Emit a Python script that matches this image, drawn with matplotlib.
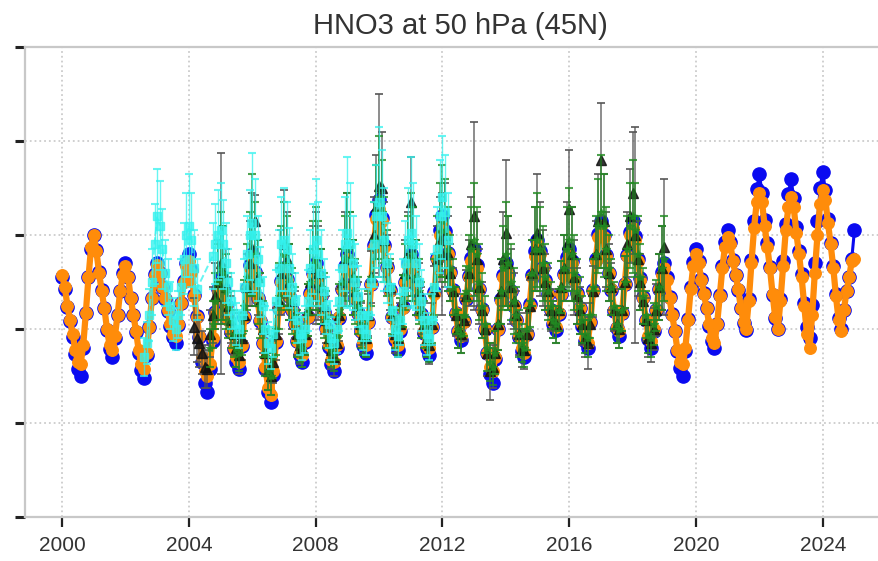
import numpy as np
import matplotlib
matplotlib.use("Agg")
import matplotlib.pyplot as plt

# ---------------- data (monthly, Jan..Dec per row) ----------------
blue_start = (2000, 1)
blue_vals = [
    5.1, 4.85, 4.47, 4.16, 3.84, 3.46, 3.15, 3.0, 3.6, 4.35, 5.1, 5.7,      # 2000
    6.0, 5.69, 5.22, 4.83, 4.44, 3.97, 3.58, 3.4, 3.8, 4.3, 4.8, 5.2,       # 2001
    5.4, 5.11, 4.67, 4.3, 3.93, 3.49, 3.12, 2.95, 3.44, 4.05, 4.67, 5.16,   # 2002
    5.4, 5.2, 4.89, 4.64, 4.38, 4.07, 3.82, 3.7, 4.08, 4.56, 5.03, 5.41,    # 2003
    5.6, 5.25, 4.72, 4.27, 3.83, 3.3, 2.86, 2.65, 3.14, 3.75, 4.37, 4.86,   # 2004
    5.1, 4.87, 4.52, 4.22, 3.93, 3.58, 3.29, 3.15, 3.64, 4.25, 4.87, 5.36,  # 2005
    5.6, 5.22, 4.66, 4.18, 3.71, 3.14, 2.67, 2.45, 3.02, 3.73, 4.45, 5.02,  # 2006
    5.3, 5.06, 4.7, 4.4, 4.1, 3.74, 3.44, 3.3, 3.72, 4.25, 4.77, 5.19,      # 2007
    5.4, 5.12, 4.71, 4.37, 4.02, 3.61, 3.26, 3.1, 3.6, 4.23, 4.85, 5.35,    # 2008
    5.6, 5.35, 4.97, 4.66, 4.34, 3.96, 3.65, 3.5, 4.15, 4.96, 5.78, 6.43,   # 2009
    6.75, 6.37, 5.79, 5.31, 4.83, 4.25, 3.77, 3.55, 3.96, 4.47, 4.99, 5.4,  # 2010
    5.6, 5.34, 4.96, 4.63, 4.31, 3.92, 3.6, 3.45, 4.04, 4.78, 5.52, 6.1,    # 2011
    6.4, 6.08, 5.61, 5.22, 4.82, 4.35, 3.95, 3.77, 4.16, 4.64, 5.12, 5.51,  # 2012
    5.7, 5.36, 4.85, 4.42, 3.99, 3.48, 3.05, 2.85, 3.36, 4.0, 4.64, 5.15,   # 2013
    5.4, 5.16, 4.8, 4.5, 4.2, 3.84, 3.54, 3.4, 3.9, 4.53, 5.15, 5.65,       # 2014
    5.9, 5.67, 5.32, 5.04, 4.75, 4.4, 4.11, 3.98, 4.32, 4.75, 5.18, 5.53,   # 2015
    5.7, 5.45, 5.07, 4.76, 4.44, 4.06, 3.75, 3.6, 4.14, 4.82, 5.49, 6.03,   # 2016
    6.3, 6.01, 5.57, 5.2, 4.83, 4.39, 4.02, 3.85, 4.34, 4.95, 5.57, 6.06,   # 2017
    6.3, 5.98, 5.49, 5.09, 4.68, 4.19, 3.79, 3.6, 3.96, 4.41, 4.86, 5.22,   # 2018
    5.4, 5.11, 4.68, 4.32, 3.96, 3.53, 3.17, 3.0, 3.54, 4.22, 4.89, 5.43,   # 2019
    5.7, 5.45, 5.07, 4.76, 4.44, 4.06, 3.75, 3.6, 4.1, 4.73, 5.35, 5.85,    # 2020
    6.1, 5.85, 5.46, 5.15, 4.83, 4.45, 4.13, 3.98, 4.64, 5.47, 6.3, 6.97,   # 2021
    7.3, 6.9, 6.31, 5.82, 5.32, 4.73, 4.23, 4.0, 4.64, 5.44, 6.24, 6.88,    # 2022
    7.2, 6.79, 6.18, 5.67, 5.16, 4.55, 4.04, 3.8, 4.51, 5.4, 6.29, 7.0,     # 2023
    7.35, 6.95, 6.35, 5.84, 5.34, 4.74, 4.23, 4.0, 4.4, 4.8, 5.1, 5.5,      # 2024
    6.1,                                                                     # 2025
]

orange_start = (2000, 1)
orange_vals = [
    5.15, 4.9, 4.5, 4.2, 3.9, 3.55, 3.3, 3.25, 3.65, 4.35, 5.1, 5.75,       # 2000
    6.0, 5.65, 5.2, 4.8, 4.45, 4.0, 3.65, 3.55, 3.85, 4.3, 4.8, 5.15,       # 2001
    5.35, 5.1, 4.65, 4.3, 3.95, 3.55, 3.25, 3.15, 3.5, 4.05, 4.65, 5.15,    # 2002
    5.36, 5.2, 4.9, 4.65, 4.4, 4.1, 3.9, 3.85, 4.1, 4.55, 5.0, 5.35,        # 2003
    5.45, 5.2, 4.7, 4.25, 3.85, 3.4, 3.1, 3.0, 3.25, 3.8, 4.35, 4.8,        # 2004
    5.0, 4.85, 4.5, 4.2, 3.95, 3.6, 3.4, 3.3, 3.65, 4.25, 4.85, 5.3,        # 2005
    5.55, 5.2, 4.65, 4.2, 3.7, 3.2, 2.75, 2.6, 3.1, 3.75, 4.45, 5.0,        # 2006
    5.25, 5.05, 4.7, 4.4, 4.1, 3.75, 3.5, 3.45, 3.75, 4.25, 4.75, 5.15,     # 2007
    5.3, 5.1, 4.7, 4.35, 4.0, 3.65, 3.35, 3.3, 3.65, 4.25, 4.85, 5.3,       # 2008
    5.5, 5.3, 4.95, 4.65, 4.35, 3.95, 3.7, 3.65, 4.15, 4.95, 5.75, 6.35,    # 2009
    6.55, 6.3, 5.75, 5.3, 4.8, 4.25, 3.8, 3.65, 4.0, 4.45, 5.0, 5.35,       # 2010
    5.5, 5.3, 4.95, 4.6, 4.3, 3.95, 3.65, 3.6, 4.05, 4.75, 5.5, 6.0,        # 2011
    6.2, 6.0, 5.6, 5.2, 4.8, 4.35, 3.95, 3.85, 4.15, 4.65, 5.1, 5.45,       # 2012
    5.6, 5.3, 4.85, 4.4, 4.0, 3.5, 3.2, 3.1, 3.4, 4.0, 4.6, 5.1,            # 2013
    5.3, 5.15, 4.8, 4.5, 4.2, 3.85, 3.6, 3.5, 3.9, 4.5, 5.1, 5.55,          # 2014
    5.8, 5.6, 5.3, 5.0, 4.75, 4.4, 4.15, 4.05, 4.35, 4.75, 5.15, 5.45,      # 2015
    5.6, 5.4, 5.05, 4.75, 4.45, 4.1, 3.8, 3.7, 4.15, 4.8, 5.45, 5.95,       # 2016
    6.2, 5.95, 5.55, 5.2, 4.85, 4.4, 4.05, 3.95, 4.35, 4.95, 5.55, 6.0,     # 2017
    6.15, 5.9, 5.45, 5.05, 4.65, 4.2, 3.85, 3.75, 4.0, 4.4, 4.85, 5.15,     # 2018
    5.3, 5.05, 4.65, 4.3, 3.95, 3.55, 3.3, 3.25, 3.6, 4.2, 4.85, 5.35,      # 2019
    5.6, 5.4, 5.05, 4.75, 4.45, 4.1, 3.8, 3.7, 4.1, 4.7, 5.3, 5.75,         # 2020
    5.95, 5.8, 5.45, 5.15, 4.85, 4.45, 4.15, 4.0, 4.6, 5.4, 6.15, 6.7,      # 2021
    6.9, 6.7, 6.2, 5.75, 5.3, 4.75, 4.25, 4.0, 4.6, 5.35, 6.1, 6.6,         # 2022
    6.8, 6.6, 6.05, 5.6, 5.1, 4.5, 3.9, 3.6, 4.3, 5.2, 6.0, 6.65,           # 2023
    6.95, 6.75, 6.25, 5.8, 5.3, 4.7, 4.2, 3.95, 4.4, 4.8, 5.1, 5.45,        # 2024
    5.5,                                                                     # 2025
]

# cyan series with errors (None = missing month)
cyan_start = (2002, 8)
cyan_vals = [
    3.4, 3.7, 4.3, 5.0, 5.8,                                                 # 2002 Aug-Dec
    6.4, 6.2, 5.7, 5.2, 4.9, 4.5, 4.2, 4.0, 4.3, 4.9, 5.5, 6.0,              # 2003
    6.2, 5.9, 5.3, 4.85, None, None, None, None, None, 5.55, 5.8, 6.0,       # 2004
    6.1, 5.8, 5.4, 5.0, 4.6, 4.3, 4.1, 4.0, 4.3, 4.9, 5.6, 6.0,              # 2005
    6.25, 6.0, 5.5, 5.0, 4.5, 4.0, 3.7, 3.6, 3.9, 4.6, 5.3, 5.8,             # 2006
    5.9, 5.7, 5.3, 4.9, 4.6, 4.2, 3.9, 3.8, 4.0, 4.6, 5.3, 5.7,              # 2007
    5.9, 5.6, 5.2, 4.8, 4.5, 4.1, 3.8, 3.7, 4.0, 4.6, 5.3, 5.8,              # 2008
    6.05, 5.8, 5.4, 5.0, 4.7, 4.3, 4.0, 3.9, 4.3, 5.0, 5.8, 6.4,             # 2009
    6.7, 6.4, 5.9, 5.4, 4.9, 4.4, 4.0, 3.85, 4.2, 4.8, 5.4, 5.9,             # 2010
    6.05, 5.8, 5.4, 5.0, 4.6, 4.2, 3.9, 3.8, 4.2, 4.9, 5.7, 6.4,             # 2011
    6.8, 6.5, 5.9,                                                           # 2012 Jan-Mar
]
cyan_err = [
    0.4, 0.45, 0.55, 0.7, 0.85,
    1.0, 0.95, 0.85, 0.7, 0.6, 0.5, 0.45, 0.45, 0.5, 0.6, 0.75, 0.9,
    1.1, 1.0, 0.8, 0.65, None, None, None, None, None, 0.7, 0.85, 0.95,
    1.0, 0.95, 0.85, 0.7, 0.6, 0.5, 0.45, 0.4, 0.5, 0.6, 0.8, 0.95,
    1.5, 1.2, 0.9, 0.75, 0.6, 0.5, 0.45, 0.45, 0.5, 0.65, 0.8, 1.0,
    1.1, 1.0, 0.85, 0.7, 0.6, 0.5, 0.45, 0.45, 0.5, 0.65, 0.8, 0.95,
    1.3, 1.1, 0.9, 0.7, 0.6, 0.5, 0.45, 0.45, 0.5, 0.65, 0.8, 1.0,
    1.6, 1.3, 1.0, 0.8, 0.65, 0.55, 0.45, 0.45, 0.55, 0.7, 0.9, 1.1,
    1.6, 1.4, 1.1, 0.85, 0.7, 0.55, 0.45, 0.45, 0.55, 0.7, 0.9, 1.1,
    1.6, 1.3, 1.0, 0.8, 0.65, 0.55, 0.45, 0.45, 0.55, 0.7, 0.9, 1.2,
    1.3, 1.2, 1.0,
]

green_start = (2004, 9)
green_vals = [
    3.6, 4.1, 4.6, 5.0,                                                      # 2004 Sep-Dec
    5.3, 5.2, 4.8, 4.5, 4.2, 3.9, 3.6, 3.5, 3.9, 4.5, 5.1, 5.6,              # 2005
    6.0, 5.6, 5.0, 4.5, 4.0, 3.5, 3.1, 3.0, 3.4, 4.0, 4.7, 5.3,              # 2006
    5.6, 5.4, 5.0, 4.6, 4.3, 3.9, 3.7, 3.6, 3.9, 4.4, 5.0, 5.4,              # 2007
    5.5, 5.3, 4.9, 4.5, 4.2, 3.8, 3.6, 3.5, 3.8, 4.4, 5.0, 5.5,              # 2008
    5.7, 5.5, 5.1, 4.8, 4.5, 4.1, 3.85, 3.8, 4.3, 5.1, 5.9, 6.5,             # 2009
    6.8, 6.5, 5.9, 5.4, 4.9, 4.4, 4.0, 3.85, 4.2, 4.6, 5.1, 5.5,             # 2010
    5.8, 5.6, 5.1, 4.8, 4.4, 4.1, 3.8, 3.7, 4.2, 4.9, 5.6, 6.1,              # 2011
    6.3, 6.1, 5.7, 5.3, 4.9, 4.4, 4.0, 3.9, 4.3, 4.8, 5.3, 5.7,              # 2012
    5.9, 5.6, 5.0, 4.5, 4.1, 3.6, 3.3, 3.2, 3.5, 4.1, 4.8, 5.3,              # 2013
    5.6, 5.4, 5.0, 4.6, 4.3, 3.9, 3.7, 3.6, 4.0, 4.6, 5.2, 5.7,              # 2014
    5.9, 5.7, 5.4, 5.1, 4.8, 4.5, 4.2, 4.1, 4.4, 4.9, 5.3, 5.7,              # 2015
    5.9, 5.6, 5.2, 4.8, 4.5, 4.2, 3.9, 3.8, 4.3, 4.9, 5.6, 6.2,              # 2016
    6.5, 6.2, 5.7, 5.3, 4.9, 4.5, 4.1, 4.0, 4.4, 5.0, 5.7, 6.2,              # 2017
    6.4, 6.1, 5.6, 5.1, 4.7, 4.3, 3.9, 3.8, 4.1, 4.5, 4.9, 5.3,              # 2018
    5.5,                                                                     # 2019 Jan
]
green_err = [
    0.4, 0.5, 0.6, 0.8,
    1.2, 1.0, 0.8, 0.7, 0.6, 0.5, 0.4, 0.4, 0.45, 0.55, 0.7, 0.9,
    1.3, 1.1, 0.9, 0.7, 0.6, 0.5, 0.4, 0.4, 0.45, 0.55, 0.7, 0.9,
    1.1, 1.0, 0.8, 0.7, 0.6, 0.5, 0.4, 0.4, 0.45, 0.55, 0.7, 0.9,
    1.1, 1.0, 0.8, 0.7, 0.6, 0.5, 0.4, 0.4, 0.45, 0.55, 0.7, 0.9,
    1.2, 1.0, 0.8, 0.7, 0.6, 0.5, 0.4, 0.4, 0.5, 0.6, 0.8, 1.0,
    1.3, 1.1, 0.9, 0.7, 0.6, 0.5, 0.4, 0.4, 0.45, 0.55, 0.7, 0.9,
    1.1, 1.0, 0.8, 0.7, 0.6, 0.5, 0.4, 0.4, 0.5, 0.6, 0.8, 1.0,
    1.2, 1.1, 0.9, 0.7, 0.6, 0.5, 0.4, 0.4, 0.45, 0.55, 0.7, 0.9,
    1.2, 1.0, 0.8, 0.7, 0.6, 0.5, 0.4, 0.4, 0.45, 0.55, 0.7, 0.9,
    1.1, 1.0, 0.8, 0.7, 0.6, 0.5, 0.4, 0.4, 0.45, 0.55, 0.7, 0.9,
    1.0, 0.9, 0.8, 0.7, 0.6, 0.5, 0.4, 0.4, 0.45, 0.55, 0.7, 0.9,
    1.1, 1.0, 0.8, 0.7, 0.6, 0.5, 0.4, 0.4, 0.5, 0.6, 0.8, 1.0,
    1.2, 1.1, 0.9, 0.7, 0.6, 0.5, 0.4, 0.4, 0.45, 0.55, 0.7, 0.9,
    1.2, 1.0, 0.8, 0.7, 0.6, 0.5, 0.4, 0.4, 0.45, 0.55, 0.7, 0.9,
    0.9,
]

black_start = (2004, 3)
black_vals = [
    4.05, 3.8, 3.7, 3.5, 3.2, 3.15, 3.9, 4.3, 4.7, 5.0,                      # 2004 Mar-Dec
    5.4, 5.2, 4.9, 4.5, 4.2, 3.9, 3.6, 3.45, 3.8, 4.3, 4.9, 5.4,             # 2005
    5.7, 6.3, 5.1, 4.6, 4.0, 3.5, 3.1, 3.0, 3.3, 3.9, 4.6, 5.2,              # 2006
    5.8, 5.5, 5.0, 4.6, 4.3, 3.9, 3.65, 3.6, 3.9, 4.4, 5.0, 5.3,             # 2007
    5.3, 5.2, 4.9, 4.5, 4.2, 3.8, 3.55, 3.4, 3.7, 4.3, 5.0, 5.5,             # 2008
    5.8, 5.5, 5.1, 4.8, 4.5, 4.1, 3.9, 3.8, 4.3, 5.1, 6.0, 6.6,              # 2009
    7.05, 7.0, 5.9, 5.4, 4.9, 4.3, 3.9, 3.8, 4.1, 4.6, 5.2, 5.6,             # 2010
    6.7, 5.6, 5.1, 4.8, 4.4, 4.1, 3.8, 3.65, 4.1, 4.8, 5.5, 5.9,             # 2011
    5.6, 6.0, 5.6, 5.2, 4.8, 4.3, 4.0, 3.9, 4.2, 4.7, 5.2, 5.8,              # 2012
    6.4, 5.5, 4.9, 4.4, 4.0, 3.5, 3.1, 3.2, 3.5, 4.1, 4.8, 5.5,              # 2013
    6.05, 5.4, 4.9, 4.6, 4.3, 3.9, 3.6, 3.55, 3.9, 4.5, 5.2, 5.7,            # 2014
    6.05, 5.7, 5.3, 5.0, 4.8, 4.4, 4.2, 4.1, 4.4, 4.9, 5.3, 5.8,             # 2015
    6.55, 5.6, 5.1, 4.7, 4.4, 4.1, 3.8, 3.7, 4.1, 4.8, 5.6, 6.3,             # 2016
    7.6, 6.3, 5.7, 5.2, 4.9, 4.4, 4.1, 4.0, 4.4, 5.0, 5.8, 6.4,              # 2017
    6.9, 6.0, 5.5, 5.0, 4.6, 4.2, 3.8, 3.7, 4.0, 4.4, 4.9, 5.3,              # 2018
    5.75,                                                                    # 2019 Jan
]
black_err = [
    0.6, 0.5, 0.5, 0.45, 0.45, 0.4, 0.5, 0.6, 0.7, 0.9,
    2.35, 1.0, 0.8, 0.6, 0.5, 0.45, 0.4, 0.4, 0.45, 0.55, 0.7, 0.9,
    1.2, 0.55, 0.8, 0.6, 0.5, 0.45, 0.4, 0.4, 0.45, 0.55, 0.7, 0.9,
    1.15, 1.0, 0.8, 0.6, 0.5, 0.45, 0.4, 0.4, 0.45, 0.55, 0.7, 0.9,
    1.2, 1.0, 0.8, 0.6, 0.5, 0.45, 0.4, 0.4, 0.45, 0.55, 0.7, 1.0,
    1.1, 1.0, 0.8, 0.6, 0.5, 0.45, 0.4, 0.4, 0.45, 0.55, 0.8, 1.1,
    1.95, 1.2, 0.8, 0.6, 0.5, 0.45, 0.4, 0.4, 0.45, 0.55, 0.7, 0.9,
    0.95, 1.0, 0.8, 0.6, 0.5, 0.45, 0.4, 0.4, 0.45, 0.55, 0.7, 0.9,
    1.3, 1.1, 0.8, 0.6, 0.5, 0.45, 0.4, 0.4, 0.45, 0.55, 0.7, 1.0,
    2.0, 1.0, 0.8, 0.6, 0.5, 0.5, 0.6, 0.45, 0.45, 0.55, 0.7, 1.0,
    1.55, 1.0, 0.8, 0.6, 0.5, 0.45, 0.4, 0.4, 0.45, 0.55, 0.7, 0.9,
    1.25, 1.0, 0.8, 0.6, 0.5, 0.45, 0.4, 0.4, 0.45, 0.55, 0.7, 0.9,
    1.25, 1.0, 0.8, 0.6, 0.5, 0.45, 0.4, 0.55, 0.45, 0.55, 0.7, 1.0,
    1.2, 1.0, 0.8, 0.6, 0.5, 0.45, 0.4, 0.4, 0.45, 0.55, 0.7, 1.0,
    1.3, 2.3, 0.8, 0.6, 0.5, 0.45, 0.4, 0.4, 0.45, 0.55, 0.7, 0.9,
    1.45,
]

title = "HNO3 at 50 hPa (45N)"
x_ticks = [2000, 2004, 2008, 2012, 2016, 2020, 2024]
y_ticks = [0, 2, 4, 6, 8, 10]


def month_times(start, n):
    y, m = start
    return y + (m - 1 + np.arange(n)) / 12.0


def clean(start, vals, errs=None):
    t = month_times(start, len(vals))
    keep = np.array([v is not None for v in vals])
    tt = t[keep]
    vv = np.array([v for v in vals if v is not None], float)
    if errs is None:
        return tt, vv
    ee = np.array([e for e in errs if e is not None], float)
    return tt, vv, ee


plt.rcParams['font.family'] = ['Liberation Sans', 'DejaVu Sans']

fig = plt.figure(figsize=(8.79, 5.61), dpi=100)
fig.patch.set_facecolor('white')
ax = fig.add_axes([25 / 879, 44 / 561, 870 / 879, 470 / 561])

tb, vb = clean(blue_start, blue_vals)
to, vo = clean(orange_start, orange_vals)
tc, vc, ec = clean(cyan_start, cyan_vals, cyan_err)
tg, vg, eg = clean(green_start, green_vals, green_err)
tk, vk, ek = clean(black_start, black_vals, black_err)

ax.plot(tb, vb, '-o', color='#0a0af0', ms=9.5, lw=2.2, zorder=2)
ax.plot(to, vo, '-o', color='#ff8c0a', ms=8.3, lw=4.5, zorder=3)

ax.errorbar(tk, vk, yerr=ek, fmt='^', color='#111111', ecolor='#555555',
            ms=6.5, elinewidth=1.1, capsize=3, capthick=1.4, alpha=0.85,
            zorder=4)
ax.errorbar(tg, vg, yerr=eg, fmt='*', color='#228b22', ms=6, lw=0.6,
            elinewidth=1.1, capsize=3.2, capthick=1.5, alpha=0.8, zorder=5)
ax.errorbar(tc, vc, yerr=ec, fmt='s--', color='#33f2ee', ms=6, lw=1.4,
            elinewidth=1.0, capsize=3.2, capthick=1.5, alpha=0.75, zorder=6)

ax.set_xlim(1998.83, 2026.28)
ax.set_ylim(0, 10)
ax.set_xticks(x_ticks)
ax.set_yticks(y_ticks)
ax.grid(True, linestyle=':', color='#cccccc', linewidth=1.3)
ax.set_axisbelow(True)

ax.tick_params(axis='y', labelleft=False, length=7.5, width=2.2,
               color='#222222', direction='out')
ax.tick_params(axis='x', length=7.5, width=1.6, color='#222222',
               direction='out', labelsize=15, labelcolor='#333333', pad=6)

for side in ['left', 'bottom', 'top']:
    ax.spines[side].set_color('#c8c8c8')
    ax.spines[side].set_linewidth(1.6)
ax.spines['right'].set_visible(False)

ax.set_title(title, fontsize=21, color='#333333', pad=9)

fig.savefig('out.png', dpi=100, facecolor='white')
